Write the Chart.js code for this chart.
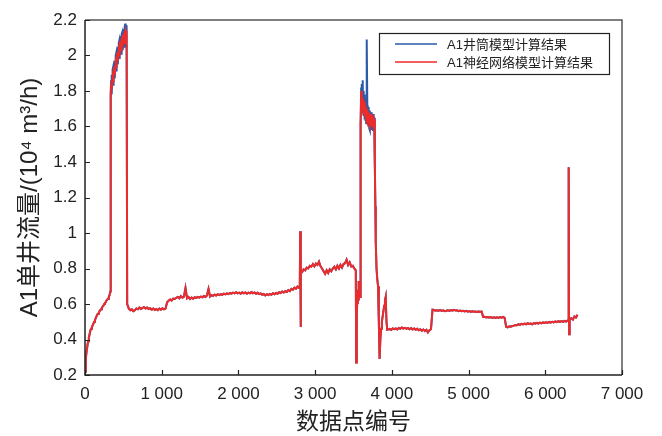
<!DOCTYPE html>
<html>
<head>
<meta charset="utf-8">
<script src="https://cdn.jsdelivr.net/npm/chart.js@4/dist/chart.umd.min.js"></script>
<style>
  html, body { margin: 0; padding: 0; background: #ffffff; }
  #wrap { width: 662px; height: 436px; }
</style>
</head>
<body>
<div id="wrap"><canvas id="c" width="662" height="436"></canvas></div>
<script>
// Axis tick labels
const xTickLabels = ['0', '1 000', '2 000', '3 000', '4 000', '5 000', '6 000', '7 000'];
const yTickLabels = ['0.2', '0.4', '0.6', '0.8', '1', '1.2', '1.4', '1.6', '1.8', '2', '2.2'];

const seriesNames = ['A1井筒模型计算结果', 'A1神经网络模型计算结果'];

// Start-up ramp, data points 0..330 every 10
const ramp = [0.22, 0.29, 0.33, 0.36, 0.39, 0.41, 0.43, 0.45, 0.46, 0.47,
  0.48, 0.49, 0.50, 0.51, 0.52, 0.53, 0.54, 0.545, 0.55, 0.56,
  0.565, 0.57, 0.58, 0.585, 0.59, 0.60, 0.605, 0.61, 0.62, 0.625,
  0.63, 0.64, 0.65, 0.67];

// First high-flow period, points 335..545 every 5
const peak1Red = [1.78, 1.84, 1.86, 1.81, 1.85, 1.89, 1.90, 1.85, 1.89, 1.93,
  1.94, 1.89, 1.93, 1.97, 1.98, 1.93, 1.97, 2.01, 2.02, 1.97,
  2.00, 2.04, 2.05, 2.00, 2.03, 2.07, 2.08, 2.03, 2.05, 2.09,
  2.10, 2.05, 2.07, 2.11, 2.12, 2.07, 2.09, 2.13, 2.14, 2.08,
  2.10, 2.14, 2.12];
const peak1Blue = [1.76, 1.86, 1.89, 1.78, 1.86, 1.92, 1.93, 1.83, 1.90, 1.96,
  1.97, 1.87, 1.94, 2.00, 2.01, 1.91, 1.98, 2.04, 2.05, 1.95,
  2.01, 2.07, 2.08, 1.98, 2.04, 2.10, 2.11, 2.01, 2.06, 2.12,
  2.13, 2.03, 2.08, 2.14, 2.15, 2.05, 2.10, 2.16, 2.18, 2.06,
  2.12, 2.17, 2.15];

// Low plateau, points 550..2790 every 20
const plateauA = [0.60, 0.575, 0.565, 0.57, 0.56, 0.565, 0.575, 0.57, 0.58, 0.572,
  0.578, 0.582, 0.575, 0.58, 0.572, 0.576, 0.568, 0.574, 0.566, 0.572,
  0.565, 0.574, 0.568, 0.576, 0.57, 0.574, 0.61, 0.618, 0.625, 0.62,
  0.63, 0.628, 0.635, 0.64, 0.632, 0.645, 0.636, 0.642, 0.69, 0.632,
  0.64, 0.628, 0.636, 0.63, 0.638, 0.634, 0.64, 0.636, 0.642, 0.638,
  0.645, 0.64, 0.648, 0.685, 0.642, 0.65, 0.646, 0.652, 0.648, 0.655,
  0.65, 0.656, 0.652, 0.658, 0.654, 0.66, 0.656, 0.662, 0.658, 0.664,
  0.66, 0.666, 0.66, 0.664, 0.658, 0.666, 0.66, 0.665, 0.658, 0.664,
  0.66, 0.667, 0.66, 0.665, 0.658, 0.663, 0.656, 0.66, 0.652, 0.656,
  0.648, 0.655, 0.65, 0.657, 0.652, 0.66, 0.655, 0.662, 0.658, 0.666,
  0.662, 0.67, 0.665, 0.672, 0.668, 0.678, 0.672, 0.685, 0.68, 0.692,
  0.686, 0.698, 0.69];

// Spike near point 2800, every 5
const spikeA = [0.70, 1.01, 0.47, 0.785];

// Middle plateau, points 2830..3510 every 20
const plateauB = [0.78, 0.795, 0.79, 0.805, 0.80, 0.815, 0.81, 0.825, 0.812, 0.828,
  0.82, 0.838, 0.812, 0.80, 0.785, 0.77, 0.79, 0.775, 0.795, 0.785,
  0.80, 0.81, 0.795, 0.815, 0.80, 0.82, 0.805, 0.825, 0.83, 0.85,
  0.82, 0.835, 0.812, 0.815, 0.80];

// Dip before the second high-flow period, points 3530..3595 every 5
const dip = [0.79, 0.27, 0.40, 0.55, 0.62, 0.60, 0.68, 0.62, 0.73, 0.66,
  0.70, 0.64, 1.63, 1.60];

// Second high-flow period, points 3600..3790 every 5
const peak2Red = [1.80, 1.74, 1.78, 1.70, 1.76, 1.69, 1.75, 1.67, 1.74, 1.66,
  1.72, 1.65, 1.71, 1.64, 1.70, 1.63, 1.69, 1.64, 1.68, 1.62,
  1.68, 1.61, 1.67, 1.60, 1.66, 1.61, 1.67, 1.60, 1.66, 1.61,
  1.65, 1.60, 1.66, 1.61, 1.64, 1.62, 1.40, 1.15, 0.95];
const peak2Blue = [1.82, 1.72, 1.84, 1.70, 1.86, 1.68, 1.80, 1.66, 1.78, 1.64,
  1.76, 1.63, 1.75, 1.62, 1.74, 2.09, 1.72, 1.61, 1.71, 1.60,
  1.70, 1.59, 1.69, 1.58, 1.68, 1.59, 1.68, 1.58, 1.67, 1.59,
  1.67, 1.58, 1.67, 1.60, 1.65, 1.61, 1.40, 1.15, 0.95];

// Recovery, points 3800..3940 every 10
const recovery = [0.80, 0.74, 0.70, 0.50, 0.29, 0.40, 0.46, 0.50, 0.53, 0.56,
  0.59, 0.62, 0.64, 0.50, 0.455];

// Late stepped plateaus, points 3950..6290 every 20
const plateauC = [0.456, 0.46, 0.454, 0.462, 0.458, 0.463, 0.457, 0.465, 0.46, 0.468,
  0.462, 0.466, 0.46, 0.465, 0.458, 0.464, 0.456, 0.462, 0.455, 0.46,
  0.452, 0.458, 0.45, 0.456, 0.448, 0.455, 0.44, 0.452, 0.458, 0.568,
  0.566, 0.562, 0.565, 0.562, 0.566, 0.561, 0.564, 0.56, 0.562, 0.565,
  0.561, 0.566, 0.563, 0.567, 0.563, 0.565, 0.56, 0.563, 0.559, 0.562,
  0.558, 0.561, 0.557, 0.56, 0.556, 0.559, 0.556, 0.558, 0.555, 0.558,
  0.556, 0.557, 0.527, 0.528, 0.524, 0.527, 0.523, 0.526, 0.522, 0.525,
  0.521, 0.525, 0.522, 0.526, 0.523, 0.527, 0.522, 0.472, 0.468, 0.474,
  0.472, 0.476, 0.478, 0.482, 0.48, 0.486, 0.482, 0.488, 0.485, 0.49,
  0.486, 0.492, 0.488, 0.49, 0.486, 0.492, 0.489, 0.494, 0.49, 0.495,
  0.491, 0.496, 0.493, 0.497, 0.494, 0.499, 0.495, 0.50, 0.497, 0.502,
  0.498, 0.503, 0.499, 0.504, 0.50, 0.505, 0.501, 0.506];

// Spike near point 6310, every 5
const spikeB = [0.505, 1.37, 0.43, 0.50, 0.515];

// Tail, points 6340..6420 every 20
const tail = [0.52, 0.512, 0.53, 0.524, 0.54];

// Turn an evenly spaced run of values into {x, y} points
function run(x0, step, vals) {
  return vals.map((v, i) => ({ x: x0 + i * step, y: v }));
}

function series(peak1, peak2) {
  return [].concat(
    run(0, 10, ramp),
    run(335, 5, peak1),
    run(550, 20, plateauA),
    run(2800, 5, spikeA),
    run(2830, 20, plateauB),
    run(3530, 5, dip),
    run(3600, 5, peak2),
    run(3800, 10, recovery),
    run(3950, 20, plateauC),
    run(6300, 5, spikeB),
    run(6340, 20, tail)
  );
}

const blueData = series(peak1Blue, peak2Blue);
const redData = series(peak1Red, peak2Red);

const BLUE = '#2b5aa8';
const RED = '#ee2b2b';
const FONT = '"Liberation Sans", "Noto Sans CJK SC", Arial, sans-serif';
const INK = '#222222';

// Box frame, inward tick marks and a boxed legend
const framePlugin = {
  id: 'frame',
  afterDraw(chart) {
    const { ctx, chartArea: a } = chart;
    const xs = chart.scales.x, ys = chart.scales.y;
    ctx.save();
    // top and right edges
    ctx.strokeStyle = '#555555';
    ctx.lineWidth = 1.5;
    ctx.beginPath();
    ctx.moveTo(a.left, a.top);
    ctx.lineTo(a.right, a.top);
    ctx.lineTo(a.right, a.bottom);
    ctx.stroke();
    // left and bottom edges
    ctx.strokeStyle = INK;
    ctx.beginPath();
    ctx.moveTo(a.left, a.top);
    ctx.lineTo(a.left, a.bottom);
    ctx.lineTo(a.right, a.bottom);
    ctx.stroke();
    // inward ticks
    ctx.lineWidth = 1.2;
    ctx.beginPath();
    xs.ticks.forEach(t => {
      const p = Math.round(xs.getPixelForValue(t.value)) + 0.5;
      ctx.moveTo(p, a.bottom);
      ctx.lineTo(p, a.bottom - 5);
    });
    ys.ticks.forEach(t => {
      const p = Math.round(ys.getPixelForValue(t.value)) + 0.5;
      ctx.moveTo(a.left, p);
      ctx.lineTo(a.left + 5, p);
    });
    ctx.stroke();

    // legend
    const bw = 230, bh = 41;
    const bx = a.right - 13 - bw, by = a.top + 13;
    ctx.fillStyle = '#ffffff';
    ctx.fillRect(bx, by, bw, bh);
    ctx.strokeStyle = INK;
    ctx.lineWidth = 1.2;
    ctx.strokeRect(bx + 0.5, by + 0.5, bw, bh);
    ctx.font = '13px ' + FONT;
    ctx.textBaseline = 'middle';
    ctx.textAlign = 'left';
    [BLUE, RED].forEach((col, i) => {
      const ly = by + 11 + i * 18;
      ctx.strokeStyle = col;
      ctx.lineWidth = 1.5;
      ctx.beginPath();
      ctx.moveTo(bx + 16, ly);
      ctx.lineTo(bx + 58, ly);
      ctx.stroke();
      ctx.fillStyle = INK;
      ctx.fillText(seriesNames[i], bx + 68, ly + 1);
    });
    ctx.restore();
  }
};

new Chart(document.getElementById('c'), {
  type: 'line',
  data: {
    datasets: [
      { label: seriesNames[0], data: blueData, borderColor: BLUE, borderWidth: 2, order: 1 },
      { label: seriesNames[1], data: redData, borderColor: RED, borderWidth: 2, order: 0 }
    ]
  },
  options: {
    responsive: false,
    animation: false,
    parsing: true,
    layout: { padding: { top: 20, right: 40, left: 0, bottom: 0 } },
    elements: { point: { radius: 0 }, line: { tension: 0 } },
    plugins: { legend: { display: false }, tooltip: { enabled: false } },
    scales: {
      x: {
        type: 'linear',
        min: 0, max: 7000,
        grid: { display: false, drawTicks: false },
        border: { display: false },
        ticks: {
          stepSize: 1000,
          padding: 9,
          color: INK,
          font: { family: FONT, size: 17 },
          maxRotation: 0,
          callback: (v, i) => xTickLabels[i]
        },
        title: {
          display: true,
          text: '数据点编号',
          color: INK,
          font: { family: FONT, size: 23 },
          padding: { top: 0, bottom: 0 }
        },
        afterFit: s => { s.height = 61; }
      },
      y: {
        type: 'linear',
        min: 0.2, max: 2.2,
        grid: { display: false, drawTicks: false },
        border: { display: false },
        ticks: {
          stepSize: 0.2,
          padding: 8,
          color: INK,
          font: { family: FONT, size: 17 },
          callback: (v, i) => yTickLabels[i]
        },
        title: {
          display: true,
          text: 'A1单井流量/(10⁴ m³/h)',
          color: INK,
          font: { family: FONT, size: 24 },
          padding: { top: 16, bottom: 0 }
        },
        afterFit: s => { s.width = 85; }
      }
    }
  },
  plugins: [framePlugin]
});
</script>
</body>
</html>
